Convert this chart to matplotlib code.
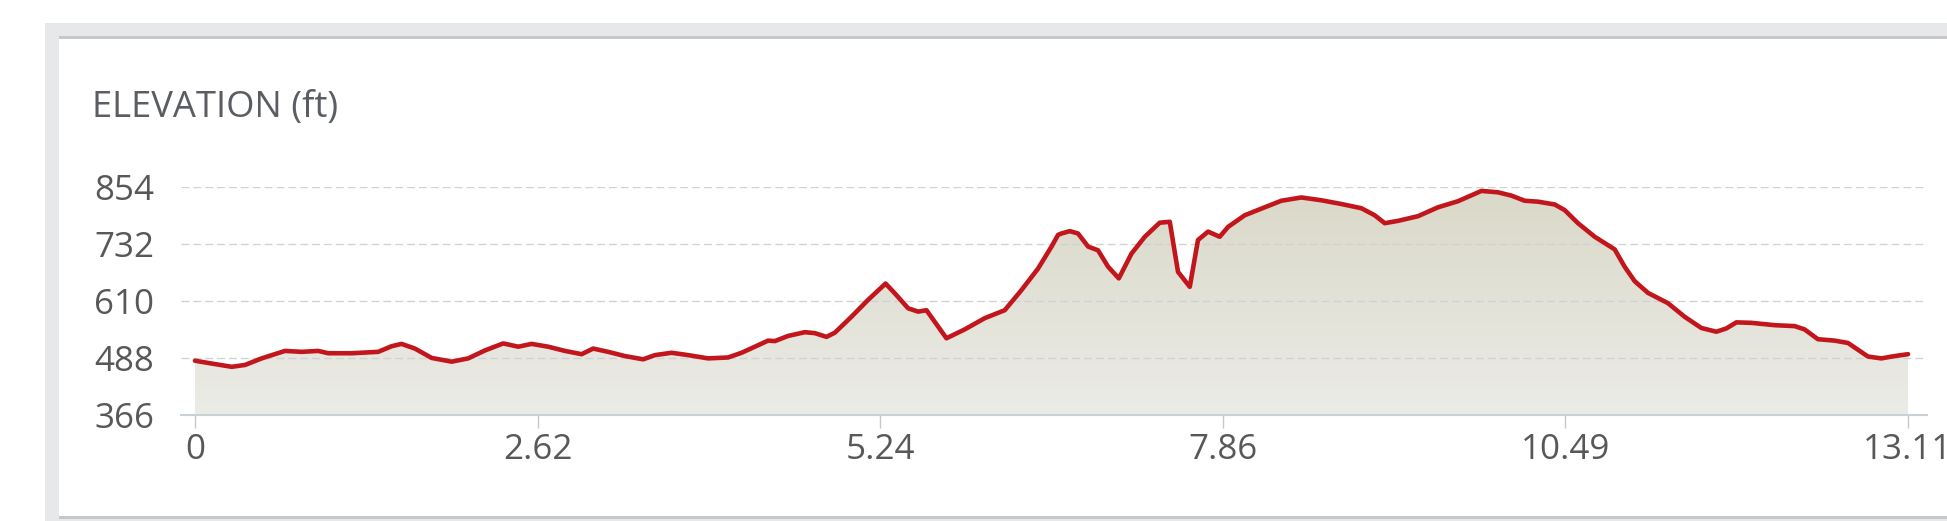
import matplotlib
matplotlib.use('Agg')
import matplotlib.pyplot as plt
import numpy as np
from matplotlib.patches import Rectangle, Polygon
from matplotlib.colors import LinearSegmentedColormap

# ---------------- data ----------------
distance_mi = [0.0, 0.128, 0.281, 0.383, 0.510, 0.689, 0.816, 0.943, 1.020, 1.199,
               1.402, 1.505, 1.581, 1.683, 1.811, 1.964, 2.091, 2.219, 2.359, 2.474,
               2.576, 2.703, 2.831, 2.959, 3.047, 3.162, 3.290, 3.430, 3.520, 3.647,
               3.774, 3.927, 4.080, 4.183, 4.285, 4.386, 4.438, 4.539, 4.667, 4.744,
               4.833, 4.897, 5.024, 5.151, 5.285, 5.356, 5.458, 5.534, 5.598, 5.751,
               5.891, 6.044, 6.197, 6.325, 6.452, 6.555, 6.605, 6.631, 6.695, 6.758,
               6.835, 6.911, 6.988, 7.070, 7.167, 7.269, 7.383, 7.460, 7.523, 7.613,
               7.676, 7.753, 7.842, 7.906, 8.034, 8.187, 8.314, 8.467, 8.620, 8.773,
               8.926, 9.028, 9.105, 9.207, 9.360, 9.513, 9.666, 9.845, 9.972, 10.074,
               10.176, 10.278, 10.406, 10.482, 10.584, 10.712, 10.865, 10.941, 11.018, 11.120,
               11.273, 11.400, 11.528, 11.643, 11.719, 11.796, 11.911, 12.089, 12.242, 12.318,
               12.420, 12.548, 12.650, 12.803, 12.905, 13.008, 13.11]
elevation_ft = [482, 476, 469, 473, 487, 503, 501, 503, 498, 498,
                501, 513, 518, 508, 488, 480, 487, 504, 519, 512,
                518, 512, 503, 496, 508, 501, 492, 485, 494, 499,
                494, 487, 489, 499, 512, 525, 524, 535, 543, 541,
                533, 542, 576, 612, 647, 626, 594, 587, 590, 530,
                549, 573, 590, 633, 679, 726, 751, 754, 759, 754,
                726, 718, 683, 658, 711, 747, 777, 779, 672, 640,
                740, 758, 747, 768, 793, 810, 824, 831, 825, 817,
                808, 793, 776, 781, 791, 810, 823, 845, 842, 835,
                824, 822, 816, 804, 776, 747, 720, 683, 652, 627,
                605, 576, 552, 544, 551, 564, 563, 558, 556, 549,
                528, 525, 520, 491, 487, 492, 496]
y_ticks = [366, 488, 610, 732, 854]
x_ticks = [0, 2.622, 5.244, 7.866, 10.488, 13.11]
x_tick_labels = ['0', '2.62', '5.24', '7.86', '10.49', '13.11']
title = 'ELEVATION (ft)'

plt.rcParams['font.family'] = ['Open Sans', 'DejaVu Sans']

W, H = 1947, 521
fig = plt.figure(figsize=(W / 100, H / 100), dpi=100)

# ---------------- panel background ----------------
bg = fig.add_axes([0, 0, 1, 1])
bg.axis('off')
bg.set_xlim(0, W)
bg.set_ylim(H, 0)
bg.add_patch(Rectangle((45, 22.7), W - 45, H - 22.7, color='#e7e8e9', lw=0))
bg.add_patch(Rectangle((59, 36), W - 59, 519.3 - 36, color='#c6c7c9', lw=0))
bg.add_patch(Rectangle((59, 38.7), W - 59, 516 - 38.7, color='white', lw=0))

# ---------------- main axes ----------------
ax_l, ax_r, ax_t, ax_b = 181, 1927, 186.7, 415
ax = fig.add_axes([ax_l / W, 1 - ax_b / H, (ax_r - ax_l) / W, (ax_b - ax_t) / H])
ax.patch.set_alpha(0)

xmin, xmax = -0.107, 13.255
ymin, ymax = 366, 854

# gradient fill under the profile
verts = np.column_stack([[distance_mi[0]] + distance_mi + [distance_mi[-1]],
                         [ymin] + elevation_ft + [ymin]])
poly = Polygon(verts, closed=True, facecolor='none', edgecolor='none')
ax.add_patch(poly)
grad = np.linspace(0, 1, 256).reshape(-1, 1)
cmap = LinearSegmentedColormap.from_list('fillgrad', ['#ecece7', '#d9d8c8'])
im = ax.imshow(grad, extent=[xmin, xmax, ymin, ymax], origin='lower',
               aspect='auto', cmap=cmap, zorder=1, interpolation='bilinear')
im.set_clip_path(poly)

ax.plot(distance_mi, elevation_ft, color='#c2161c', lw=3.3,
        solid_joinstyle='round', solid_capstyle='round', zorder=3, clip_on=False)

ax.set_xlim(xmin, xmax)
ax.set_ylim(ymin, ymax)

ax.set_yticks(y_ticks)
ax.set_xticks(x_ticks)
ax.set_xticklabels(x_tick_labels)
ax.set_axisbelow('line')
ax.yaxis.grid(True, color='#cfd2d5', linestyle=(0, (6, 3)), linewidth=0.95)
ax.xaxis.grid(False)

for s in ['top', 'right', 'left']:
    ax.spines[s].set_visible(False)
ax.spines['bottom'].set_color('#c8d0d8')
ax.spines['bottom'].set_linewidth(1.5)
ax.spines['bottom'].set_zorder(2.6)

ax.tick_params(axis='x', length=9.4, width=1.0, color='#c0c8d0', pad=3.9,
               labelsize=25.2, labelcolor='#585858', direction='out')
ax.tick_params(axis='y', length=0, pad=19.4, labelsize=25.2, labelcolor='#585858')

fig.text(91.7 / W, 1 - 116.7 / H, title, fontsize=26.2, color='#5a5e63',
         ha='left', va='baseline')

fig.savefig('out.png', dpi=100)
